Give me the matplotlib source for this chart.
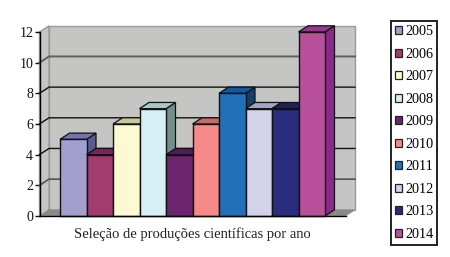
import matplotlib
matplotlib.use('Agg')
import matplotlib.pyplot as plt
from matplotlib.patches import Patch, Polygon

plt.rcParams['font.family'] = ['Liberation Serif', 'DejaVu Serif']

anos = ['2005', '2006', '2007', '2008', '2009', '2010', '2011', '2012', '2013', '2014']
valores = [5, 4, 6, 7, 4, 6, 8, 7, 7, 12]
frente = ['#a29fcf', '#a33c6e', '#fdf9d3', '#d6eef6', '#6d246f', '#f68a88',
          '#2170b8', '#d3d2ea', '#2a2c7e', '#b8509c']
topo = ['#7674b0', '#7c2458', '#c9c79e', '#a5c8c8', '#53195a', '#c46a68',
        '#1458a0', '#a3a2c8', '#1e2060', '#96388a']
lado = ['#5a5a90', '#6a1d4a', '#9a9878', '#738f8a', '#451450', '#9a5250',
        '#123f6e', '#8080a0', '#181a50', '#8a2a88']
yticks = [0, 2, 4, 6, 8, 10, 12]
grade_cor = ['#555555', '#5a5a5a', '#111111', '#111111', '#111111', '#5f5f5f', '#8a8a8a']
grade_lw = [1, 1.3, 1, 1, 1, 1.4, 1]

fig = plt.figure(figsize=(4.5, 2.57), dpi=100)
# eixo = plano da frente do grafico, em pixels da figura
ax = fig.add_axes([39.5 / 450, (257 - 216) / 257, (345.5 - 39.5) / 450, (216 - 32) / 257])
xmax = 306 / 26.5
ax.set_xlim(0, xmax)
ax.set_ylim(0, 12)

dx = 9.5 / 26.5
dy = 6.2 * 12 / 184

# parede do fundo, parede lateral e chao
ax.add_patch(Polygon([(dx, dy), (xmax + dx, dy), (xmax + dx, 12 + dy), (dx, 12 + dy)],
                     fc='#c5c5c3', ec='#9a9a9a', lw=1, clip_on=False, zorder=1))
ax.add_patch(Polygon([(0, 0), (dx, dy), (dx, 12 + dy), (0, 12)],
                     fc='#c5c5c3', ec='#9a9a9a', lw=1, clip_on=False, zorder=1))
ax.add_patch(Polygon([(0, 0), (dx, dy), (xmax + dx, dy), (xmax, 0)],
                     fc='#8a8a8a', ec='#8a8a8a', lw=0.5, clip_on=False, zorder=1))

for t, c, w in zip(yticks[1:-1], grade_cor[1:-1], grade_lw[1:-1]):
    ax.plot([0, dx, xmax + dx], [t, t + dy, t + dy], color=c, lw=w, clip_on=False, zorder=2)

x0 = 20.5 / 26.5
z = 3
for i, v in enumerate(valores):
    x = x0 + i
    ax.add_patch(Polygon([(x + 1, 0), (x + 1 + dx, dy), (x + 1 + dx, v + dy), (x + 1, v)],
                         fc=lado[i], ec='#111111', lw=0.9, clip_on=False, zorder=z))
    ax.add_patch(Polygon([(x, v), (x + dx, v + dy), (x + 1 + dx, v + dy), (x + 1, v)],
                         fc=topo[i], ec='#111111', lw=0.9, clip_on=False, zorder=z))
    ax.bar(x, v, width=1, align='edge', color=frente[i], edgecolor='#111111',
           linewidth=1, clip_on=False, zorder=z + 1)
    z += 2

for s in ['top', 'right']:
    ax.spines[s].set_visible(False)
ax.spines['left'].set_zorder(40)
ax.spines['bottom'].set_zorder(40)
ax.spines['left'].set_linewidth(1)
ax.spines['bottom'].set_linewidth(1)
ax.set_xticks([])
ax.set_yticks(yticks)
ax.tick_params(axis='y', length=3.5, width=1, pad=1, labelsize=10, colors='#111111')
ax.set_xlabel('Seleção de produções científicas por ano', fontsize=10.5, color='#222222', labelpad=8)

itens = [Patch(fc=c, ec='#222222', lw=0.9, label=a) for a, c in zip(anos, frente)]
leg = fig.legend(handles=itens, loc='upper left', bbox_to_anchor=(390.5 / 450, 1 - 21 / 257),
                 fontsize=10.2, frameon=True, fancybox=False, edgecolor='#222222', framealpha=1,
                 handlelength=0.52, handleheight=0.52, handletextpad=0.2,
                 labelspacing=0.67, borderpad=0.3, borderaxespad=0)
leg.get_frame().set_linewidth(1.4)

fig.savefig('out.png', dpi=100)
